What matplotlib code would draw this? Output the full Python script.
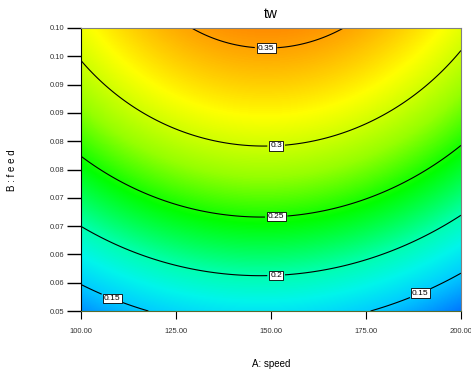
import numpy as np
import matplotlib
matplotlib.use("Agg")
import matplotlib.pyplot as plt
from matplotlib.colors import LinearSegmentedColormap

plt.rcParams['font.family'] = ['Liberation Sans', 'DejaVu Sans']

# Response-surface model (coded units a=(A-150)/50, b=(B-0.075)/0.025)
coef_names = ["const", "a", "b", "ab", "a2", "b2"]
coef_values = [0.2847, -0.0037, 0.0958, 0.002, -0.047, -0.023]

contour_levels = [0.15, 0.2, 0.25, 0.3, 0.35]
x_ticks = [100, 125, 150, 175, 200]
x_tick_labels = ["100.00", "125.00", "150.00", "175.00", "200.00"]
y_ticks = [0.05, 0.055, 0.06, 0.065, 0.07, 0.075, 0.08, 0.085, 0.09, 0.095, 0.10]
y_tick_labels = ["0.05", "0.06", "0.06", "0.07", "0.07", "0.08", "0.08", "0.09", "0.09", "0.10", "0.10"]
label_pos = [(108.9, 0.0534), (188.7, 0.0541), (151.3, 0.0572), (151.3, 0.0677),
             (151.3, 0.0800), (148.7, 0.0970)]

A = np.linspace(100, 200, 300)
B = np.linspace(0.05, 0.10, 300)
AA, BB = np.meshgrid(A, B)
a = (AA - 150) / 50
b = (BB - 0.075) / 0.025
c = dict(zip(coef_names, coef_values))
Z = c["const"] + c["a"] * a + c["b"] * b + c["ab"] * a * b + c["a2"] * a**2 + c["b2"] * b**2

nodes = [(0.10, (0, 90, 255)), (0.15, (0, 205, 255)), (0.175, (0, 245, 235)),
         (0.20, (0, 255, 175)), (0.245, (0, 255, 0)), (0.28, (150, 255, 0)),
         (0.318, (255, 255, 0)), (0.36, (255, 135, 0))]
vmin, vmax = nodes[0][0], nodes[-1][0]
cmap = LinearSegmentedColormap.from_list(
    "de", [((v - vmin) / (vmax - vmin), tuple(ch / 255 for ch in col)) for v, col in nodes])

fig = plt.figure(figsize=(4.71, 3.77), dpi=100)
ax = fig.add_axes([81 / 471, 1 - 311 / 377, 380 / 471, 283 / 377])
ax.imshow(Z, extent=[100, 200, 0.05, 0.10], origin="lower", aspect="auto",
          cmap=cmap, vmin=vmin, vmax=vmax, interpolation="bilinear")
cs = ax.contour(AA, BB, Z, levels=contour_levels, colors="black", linewidths=0.8)
fmt = {0.15: "0.15", 0.2: "0.2", 0.25: "0.25", 0.3: "0.3", 0.35: "0.35"}
texts = ax.clabel(cs, fmt=fmt, fontsize=6, inline=True, inline_spacing=3, manual=label_pos)
for t in texts:
    t.set_rotation(0)
    t.set_bbox(dict(boxstyle="square,pad=0.15", fc="white", ec="black", lw=0.6))

ax.set_xlim(100, 200)
ax.set_ylim(0.05, 0.10)
ax.set_xticks(x_ticks)
ax.set_xticklabels(x_tick_labels)
ax.set_yticks(y_ticks)
ax.set_yticklabels(y_tick_labels)
ax.tick_params(axis="x", length=6, width=0.8, labelsize=5.5, labelcolor="#333333", pad=6)
ax.tick_params(axis="y", length=10, width=1.0, labelsize=5.5, labelcolor="#333333", pad=2)
for s in ["top", "right"]:
    ax.spines[s].set_color("#808080")
ax.spines["left"].set_color("black")
ax.spines["bottom"].set_color("#556b2f")

fig.text(271 / 471, 1 - 14 / 377, "tw", ha="center", va="center", fontsize=10)
fig.text(271 / 471, 1 - 364 / 377, "A: speed", ha="center", va="center", fontsize=7)
fig.text(12 / 471, 1 - 170 / 377, "B : f e e d", ha="center", va="center", fontsize=7, rotation=90)

fig.savefig("out.png", dpi=100)
